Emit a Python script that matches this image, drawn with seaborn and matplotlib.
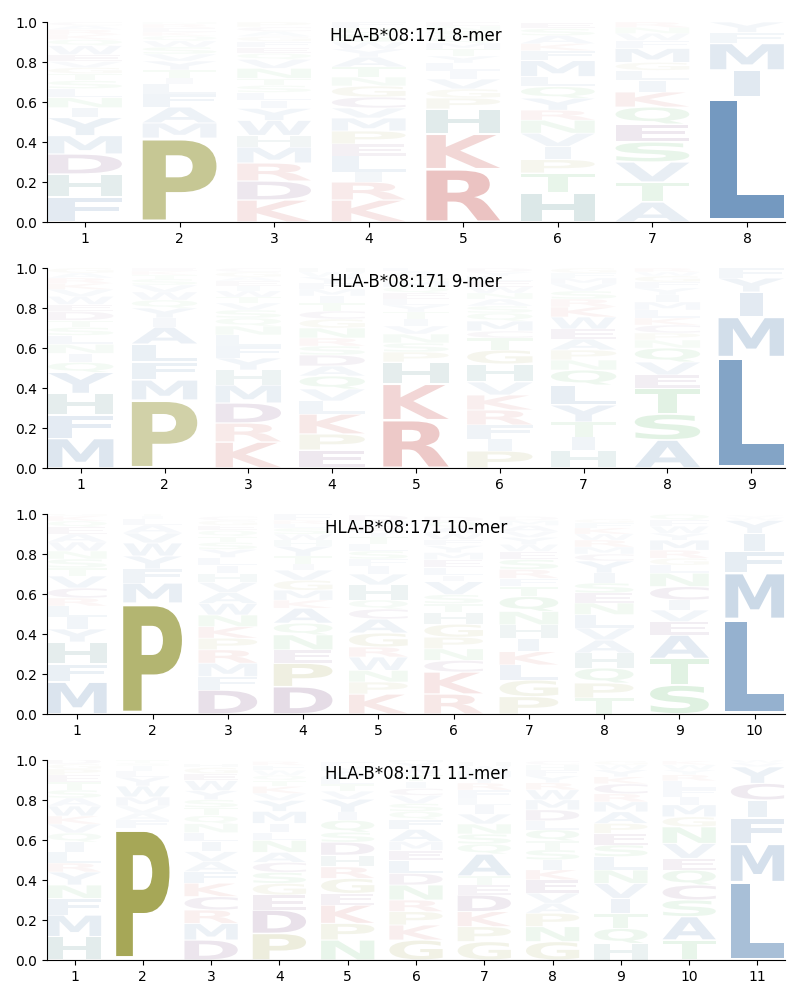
import matplotlib
matplotlib.use("Agg")
import matplotlib.pyplot as plt
import numpy as np
import seaborn as sns
from matplotlib.textpath import TextPath
from matplotlib.patches import PathPatch
from matplotlib.font_manager import FontProperties
from matplotlib.transforms import Affine2D

allele = "HLA-B*08:171"

# Residues per position, listed bottom to top, with their frequencies
letters_8 = ["FHDMYINLSTGVEWQKRAC", "PMAFLITYVSWQKERN", "KDRMHWYILSTNVQEFGACP",
             "KRILEPMVCGNTAYWSQF", "RKHPGVILYTMQSNE", "HTPIVNRYQLMFKASE",
             "ATVSEQKILGMFWNR", "LIMFY"]
freqs_8 = [
    [.125, .115, .10, .092, .09, .05, .05, .045, .04, .035, .03, .03, .035, .045, .03, .025, .025, .02, .018],
    [.42, .075, .08, .065, .05, .03, .04, .045, .035, .035, .03, .025, .02, .02, .02, .01],
    [.11, .095, .09, .08, .058, .075, .06, .04, .04, .035, .035, .05, .045, .03, .03, .03, .025, .025, .022, .025],
    [.11, .09, .05, .08, .06, .065, .065, .05, .055, .055, .045, .05, .05, .04, .035, .04, .03, .03],
    [.265, .175, .125, .055, .045, .05, .04, .04, .035, .035, .03, .03, .03, .025, .02],
    [.145, .10, .067, .065, .067, .065, .05, .06, .058, .05, .08, .05, .035, .04, .035, .03],
    [.10, .10, .10, .10, .09, .085, .075, .058, .05, .04, .07, .04, .035, .03, .027],
    [.625, .135, .133, .055, .052],
]

letters_9 = ["MFHYQINLSTDEWVKRAG", "PMFLAIYQWVSTKE", "KRDMHYFLNQSVTWIEAGC",
             "EPKLVQADSRNGCTIMFYWH", "RKHPSNVITYLEQMGAF", "PIFRKVHGTCMQSANWELYD",
             "HITYLQNPAEWKRSVMFG", "ASTEVQNPCKLMIYFGWR", "LMIYF"]
freqs_9 = [
    [.148, .117, .108, .105, .05, .045, .045, .045, .04, .035, .045, .035, .04, .035, .03, .027, .025, .025],
    [.34, .10, .09, .09, .085, .045, .05, .04, .04, .035, .03, .02, .02, .015],
    [.13, .095, .10, .09, .075, .06, .06, .055, .045, .04, .04, .035, .03, .03, .025, .025, .02, .025, .02],
    [.09, .08, .10, .065, .06, .065, .05, .055, .045, .04, .05, .045, .04, .04, .035, .035, .03, .03, .025, .02],
    [.24, .18, .11, .05, .045, .045, .04, .035, .035, .035, .03, .03, .03, .03, .025, .025, .02],
    [.085, .06, .07, .075, .075, .065, .09, .07, .06, .035, .05, .04, .035, .035, .03, .03, .03, .025, .02, .02],
    [.09, .065, .075, .085, .10, .075, .05, .05, .055, .05, .06, .05, .04, .04, .035, .03, .025, .025],
    [.14, .13, .13, .065, .065, .07, .04, .035, .04, .035, .04, .04, .035, .035, .03, .03, .02, .02],
    [.555, .20, .125, .07, .05],
]

letters_10 = ["MFHYILRCVTSNWAEQKG", "PMFYWVALIT", "DFMRPKNWAVHILYSTQEGC",
              "DPENQAKMGVITYHWSLRF", "KPNWRGACQHVIFSLTYEMD", "RKCNPGHTSVILEMYFWAQD",
              "PGLKIHNQTFRSEWYVAMD", "TPQHAVLNESIYCMRWKFG", "STAEVICNLGRMYWFQ", "LMFIYWV"]
freqs_10 = [
    [.16, .09, .11, .065, .06, .055, .04, .05, .06, .04, .045, .04, .045, .04, .035, .03, .025, .015],
    [.555, .10, .07, .065, .065, .05, .04, .03, .015, .01],
    [.12, .067, .067, .067, .058, .058, .058, .058, .055, .05, .045, .04, .04, .04, .035, .03, .03, .025, .025, .02],
    [.137, .117, .067, .075, .058, .075, .04, .05, .05, .05, .03, .04, .05, .03, .03, .03, .02, .02, .03],
    [.10, .06, .058, .067, .05, .07, .07, .05, .045, .075, .055, .04, .035, .04, .035, .035, .03, .025, .025, .03],
    [.10, .11, .058, .058, .058, .065, .058, .045, .045, .065, .03, .04, .04, .035, .035, .03, .03, .03, .03, .025],
    [.087, .083, .075, .067, .067, .067, .067, .075, .05, .04, .045, .05, .04, .035, .035, .03, .03, .025, .02],
    [.08, .075, .075, .075, .065, .06, .067, .058, .05, .05, .05, .06, .035, .035, .035, .03, .03, .025, .02],
    [.145, .133, .117, .067, .058, .05, .067, .067, .04, .035, .04, .05, .035, .035, .03, .03],
    [.475, .23, .108, .09, .065, .015, .012],
]

letters_11 = ["HMFNYRLIQVKWASTEPGD", "PFAVMWYLIST", "DMRCKFAVILNQTSYWEGH",
              "PDEGSCANLIMYVKTQWFR", "NPKEGRHDSQIYVTLAMF", "GKPRNDLEMAFQSVCITWYH",
              "GPKDETAQSNVILFRYMWH", "GNPAVEKISTQLDMWRYFHC", "HQTIVNLSEPAMRCKYWG",
              "TASCQEVNGMIFLRYWK", "LMFICYVW"]
freqs_11 = [
    [.117, .108, .083, .067, .065, .045, .055, .05, .045, .045, .04, .05, .04, .04, .04, .035, .03, .025, .025],
    [.66, .04, .035, .035, .045, .055, .045, .03, .025, .015, .015],
    [.10, .083, .067, .067, .067, .058, .05, .05, .05, .045, .045, .04, .04, .04, .045, .05, .035, .03, .02],
    [.133, .117, .075, .058, .055, .05, .05, .06, .04, .045, .06, .055, .035, .035, .03, .025, .025, .025, .02],
    [.10, .083, .092, .058, .075, .058, .058, .065, .05, .06, .04, .065, .04, .035, .035, .03, .025, .02],
    [.10, .075, .067, .058, .075, .058, .065, .05, .045, .06, .05, .04, .04, .04, .035, .035, .035, .03, .03, .02],
    [.092, .075, .075, .083, .05, .045, .11, .05, .05, .05, .05, .045, .035, .04, .035, .03, .03, .025, .02],
    [.092, .075, .067, .05, .05, .067, .05, .05, .05, .045, .055, .045, .055, .05, .05, .035, .035, .03, .025, .02],
    [.083, .075, .075, .075, .075, .067, .067, .058, .058, .05, .058, .05, .04, .05, .035, .035, .025, .02],
    [.10, .117, .083, .075, .075, .058, .075, .083, .05, .06, .04, .04, .04, .03, .025, .025, .02],
    [.39, .19, .13, .09, .083, .083, .02, .014],
]

panels = [(8, letters_8, freqs_8), (9, letters_9, freqs_9),
          (10, letters_10, freqs_10), (11, letters_11, freqs_11)]

# Colour by residue chemistry
aa_colors = {}
for aa in "LMFIYVWA":
    aa_colors[aa] = "#215c9a"
for aa in "KR":
    aa_colors[aa] = "#b7201c"
for aa in "H":
    aa_colors[aa] = "#146464"
for aa in "DEC":
    aa_colors[aa] = "#460550"
for aa in "STNQ":
    aa_colors[aa] = "#23a032"
for aa in "PG":
    aa_colors[aa] = "#787a00"

sns.set_style("ticks", {"axes.edgecolor": "black", "xtick.color": "black",
                        "ytick.color": "black", "text.color": "black"})
plt.rcParams["font.family"] = ["DejaVu Sans"]

fp = FontProperties(family="DejaVu Sans", weight="bold")
glyphs = {aa: TextPath((0, 0), aa, size=1, prop=fp) for aa in aa_colors}


def draw_letter(ax, aa, x, y, h):
    'Stretch one glyph into its box of the stack'
    path = glyphs[aa]
    bb = path.get_extents()
    pad = 0.03 * h
    # I keeps its narrow shape, the rest fill the column
    width = 0.28 if aa == "I" else 0.78
    tr = (Affine2D().translate(-bb.x0, -bb.y0)
          .scale(width / bb.width, (h - 2 * pad) / bb.height)
          .translate(x - width / 2, y + pad))
    patch = PathPatch(tr.transform_path(path), facecolor=aa_colors[aa],
                      edgecolor="none", alpha=min(h, 1.0))
    ax.add_patch(patch)


fig, axes = plt.subplots(4, 1, figsize=(8, 10), dpi=100)
fig.subplots_adjust(left=0.059, right=0.981, top=0.978, bottom=0.04, hspace=0.23)

for ax, (n, letters, freqs) in zip(axes, panels):
    for pos, (col, vals) in enumerate(zip(letters, freqs), start=1):
        y = 0.0
        for aa, f in zip(col, vals):
            draw_letter(ax, aa, pos, y, f)
            y += f
    ax.set_xlim(0.6, n + 0.4)
    ax.set_ylim(0, 1)
    ax.set_xticks(range(1, n + 1))
    ax.set_yticks(np.arange(0, 1.01, 0.2))
    ax.text(0.5, 0.93, f"{allele} {n}-mer", transform=ax.transAxes,
            ha="center", va="center", fontsize=12)

sns.despine(fig=fig)
fig.savefig("out.png", dpi=100)
